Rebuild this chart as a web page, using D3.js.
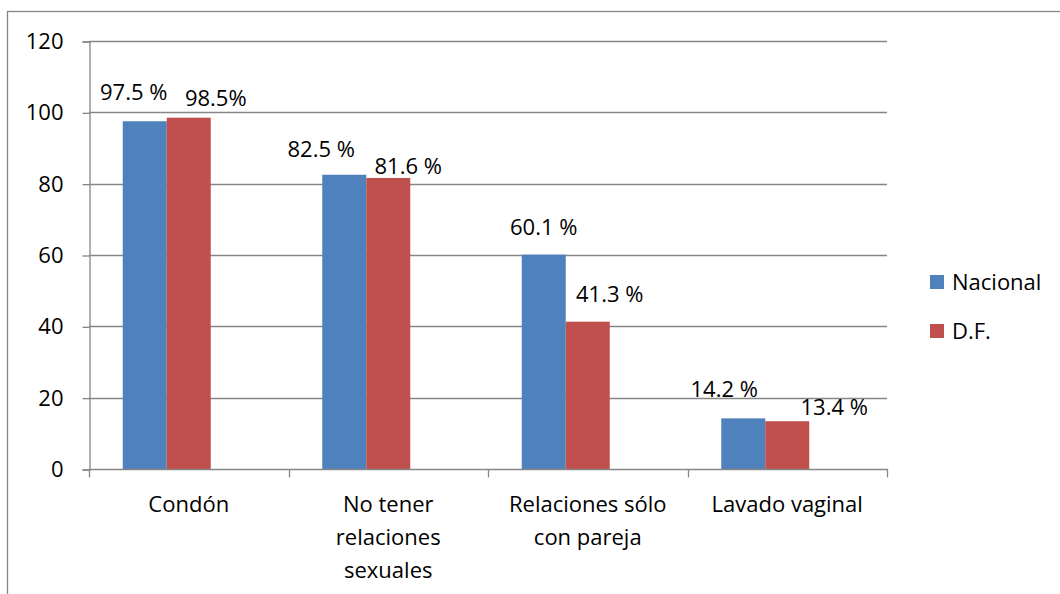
<!DOCTYPE html>
<html>
<head>
<meta charset="utf-8">
<script src="https://cdn.jsdelivr.net/npm/d3@7"></script>
<style>
  html, body { margin: 0; padding: 0; background: #fff; }
  svg { display: block; font-family: "Open Sans", "Noto Sans", sans-serif; }
</style>
</head>
<body>
<svg id="chart" width="1060" height="594"></svg>
<script>
// ---- data ----
const categories = ["Condón", "No tener relaciones sexuales", "Relaciones sólo con pareja", "Lavado vaginal"];
const categoryLines = [["Condón"], ["No tener", "relaciones", "sexuales"], ["Relaciones sólo", "con pareja"], ["Lavado vaginal"]];
const seriesNames = ["Nacional", "D.F."];
const nacional = [97.5, 82.5, 60.1, 14.2];
const df = [98.5, 81.6, 41.3, 13.4];
const labelsNacional = ["97.5 %", "82.5 %", "60.1 %", "14.2 %"];
const labelsDF = ["98.5%", "81.6 %", "41.3 %", "13.4 %"];
const yTicks = [0, 20, 40, 60, 80, 100, 120];
const colors = ["#4F81BD", "#C0504D"];

// manual label nudges (layout, pixels): [dx, dy] relative to bar center / bar top
const nudgeNacional = [[-11, -29], [-23, -25], [0, -27], [-19, -29]];
const nudgeDF = [[27, -19], [20, -12], [22, -27], [47, -14]];

// ---- layout ----
const svg = d3.select("#chart");
const plot = { left: 89, right: 887, top: 41, bottom: 469 };
const grey = "#868686";
const fontSize = 22;

// outer chart border (extends beyond the visible canvas)
svg.append("rect")
  .attr("x", 7.5).attr("y", 11.5)
  .attr("width", 1100).attr("height", 700)
  .attr("fill", "none").attr("stroke", grey).attr("stroke-width", 1.3);

const y = d3.scaleLinear().domain([0, 120]).range([plot.bottom, plot.top]);
const x0 = d3.scaleBand().domain(categories).range([plot.left, plot.right]).padding(0);
// three slots per group (third is an empty series slot, as in the source chart)
const slotKeys = [...seriesNames, "_empty"];
const gap = 67.5;
const x1 = d3.scaleBand().domain(slotKeys).range([gap / 2, x0.bandwidth() - gap / 2]).padding(0);

// gridlines
svg.append("g").selectAll("line").data(yTicks.filter(d => d > 0)).join("line")
  .attr("x1", plot.left).attr("x2", plot.right)
  .attr("y1", d => Math.round(y(d)) + 0.5).attr("y2", d => Math.round(y(d)) + 0.5)
  .attr("stroke", grey).attr("stroke-width", 1.3);

// y axis
const yAxis = d3.axisLeft(y).tickValues(yTicks).tickSize(7).tickPadding(19).tickFormat(d3.format("d"));
const gy = svg.append("g").attr("transform", `translate(${plot.left + 0.5},0.5)`).call(yAxis);
gy.select(".domain").attr("stroke", grey).attr("stroke-width", 1.3);
gy.selectAll(".tick line").attr("stroke", grey).attr("stroke-width", 1.3);
gy.selectAll(".tick text").attr("font-size", fontSize).attr("font-family", "Open Sans").attr("fill", "#000");

// bars
const data = categories.map((c, i) => ({ cat: c, i, vals: [nacional[i], df[i]] }));
const groups = svg.append("g").selectAll("g").data(data).join("g")
  .attr("transform", d => `translate(${x0(d.cat)},0)`);
groups.selectAll("rect").data(d => d.vals.map((v, k) => ({ v, k }))).join("rect")
  .attr("x", d => x1(seriesNames[d.k]))
  .attr("width", x1.bandwidth())
  .attr("y", d => y(d.v))
  .attr("height", d => y(0) - y(d.v))
  .attr("fill", d => colors[d.k]);

// x axis
const gx = svg.append("g").attr("transform", `translate(0,${plot.bottom + 0.5})`);
gx.append("line").attr("x1", plot.left).attr("x2", plot.right + 1)
  .attr("stroke", grey).attr("stroke-width", 1.3);
const boundaries = categories.map(c => x0(c)).concat([x0(categories[categories.length - 1]) + x0.bandwidth()]);
gx.selectAll("line.tk").data(boundaries).join("line").attr("class", "tk")
  .attr("x1", d => Math.round(d) + 0.5).attr("x2", d => Math.round(d) + 0.5)
  .attr("y1", 0).attr("y2", 8)
  .attr("stroke", grey).attr("stroke-width", 1.3);

// category labels
const catText = svg.append("g").selectAll("text").data(categories).join("text")
  .attr("x", c => x0(c) + x0.bandwidth() / 2)
  .attr("y", 512)
  .attr("text-anchor", "middle")
  .attr("font-size", fontSize)
  .attr("fill", "#000");
catText.each(function (c, i) {
  d3.select(this).selectAll("tspan").data(categoryLines[i]).join("tspan")
    .attr("x", x0(c) + x0.bandwidth() / 2)
    .attr("dy", (d, j) => j === 0 ? 0 : 33)
    .text(d => d);
});

// data labels
const labelData = [];
categories.forEach((c, i) => {
  labelData.push({ c, k: 0, v: nacional[i], t: labelsNacional[i], n: nudgeNacional[i] });
  labelData.push({ c, k: 1, v: df[i], t: labelsDF[i], n: nudgeDF[i] });
});
svg.append("g").selectAll("text").data(labelData).join("text")
  .attr("x", d => x0(d.c) + x1(seriesNames[d.k]) + x1.bandwidth() / 2 + d.n[0])
  .attr("y", d => y(d.v) + d.n[1])
  .attr("dy", "0.35em")
  .attr("text-anchor", "middle")
  .attr("font-size", fontSize)
  .attr("fill", "#000")
  .text(d => d.t);

// legend
const legend = svg.append("g").attr("transform", "translate(930,282)");
const li = legend.selectAll("g").data(seriesNames).join("g")
  .attr("transform", (d, i) => `translate(0,${i * 49})`);
li.append("rect").attr("x", 0).attr("y", -7).attr("width", 14).attr("height", 14)
  .attr("fill", (d, i) => colors[i]);
li.append("text").attr("x", 22).attr("y", 0).attr("dy", "0.35em")
  .attr("font-size", fontSize).attr("fill", "#000").text(d => d);
</script>
</body>
</html>
